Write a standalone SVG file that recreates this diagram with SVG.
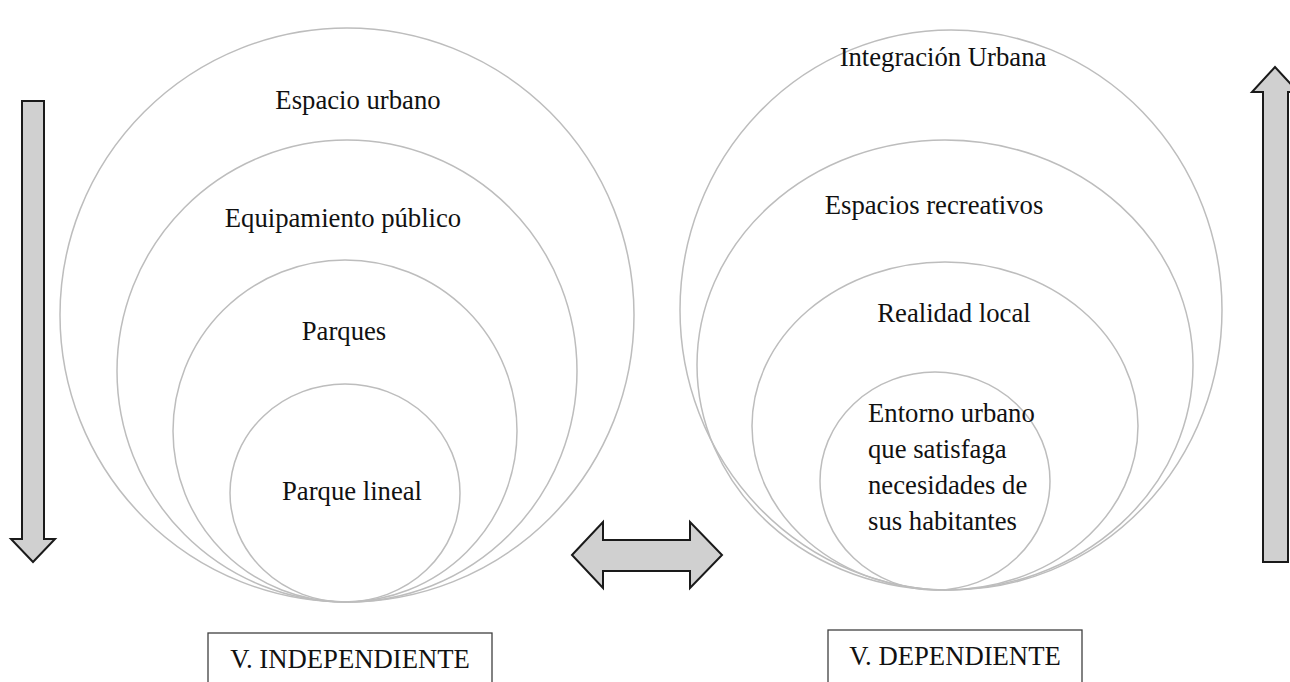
<svg xmlns="http://www.w3.org/2000/svg" width="1290" height="682" viewBox="0 0 1290 682">
<style>
.ring{fill:none;stroke:#bdbdbd;stroke-width:1.5}
.lbl{font-family:"Liberation Serif","Times New Roman",serif;font-size:26.7px;fill:#111}
.arr{fill:#d0d0d0;stroke:#1a1a1a;stroke-width:2;stroke-linejoin:miter}
.box{fill:#fff;stroke:#404040;stroke-width:1.3}
</style>
<rect width="1290" height="682" fill="#fff"/>
<g id="left-circles">
<g id="espacio-urbano"><ellipse class="ring" cx="347" cy="315" rx="287" ry="287"/><text class="lbl" x="358" y="109" text-anchor="middle">Espacio urbano</text></g>
<g id="equipamiento"><ellipse class="ring" cx="347" cy="371" rx="230" ry="231"/><text class="lbl" x="343" y="227" text-anchor="middle">Equipamiento público</text></g>
<g id="parques"><ellipse class="ring" cx="345" cy="431" rx="172" ry="171"/><text class="lbl" x="344" y="340" text-anchor="middle">Parques</text></g>
<g id="parque-lineal"><ellipse class="ring" cx="345" cy="493" rx="115" ry="109"/><text class="lbl" x="352" y="500" text-anchor="middle">Parque lineal</text></g>
</g>
<g id="right-circles">
<g id="integracion"><ellipse class="ring" cx="951" cy="310" rx="271" ry="280"/><text class="lbl" x="943" y="66" text-anchor="middle">Integración Urbana</text></g>
<g id="espacios-recreativos"><ellipse class="ring" cx="945" cy="365" rx="248" ry="225"/><text class="lbl" x="934" y="214" text-anchor="middle">Espacios recreativos</text></g>
<g id="realidad-local"><ellipse class="ring" cx="945" cy="426" rx="193" ry="164"/><text class="lbl" x="954" y="322" text-anchor="middle">Realidad local</text></g>
<g id="entorno"><ellipse class="ring" cx="935" cy="481" rx="115" ry="109"/>
<text class="lbl" x="868" y="422">Entorno urbano</text>
<text class="lbl" x="868" y="458">que satisfaga</text>
<text class="lbl" x="868" y="494">necesidades de</text>
<text class="lbl" x="868" y="530">sus habitantes</text></g>
</g>
<g id="connectors">
<path id="arrow-down" class="arr" d="M22,101 H44 V539 H55 L33,562 L11,539 H22 Z"/>
<path id="arrow-up" class="arr" d="M1263,562 V92 H1252 L1275,67 L1298,92 H1288 V562 Z"/>
<path id="arrow-both" class="arr" d="M572,555 L603,522 V540 H690 V522 L722,555 L690,588 V571 H603 V588 Z"/>
</g>
<g id="v-independiente"><rect class="box" x="208" y="633" width="284" height="60"/><text class="lbl" x="350" y="668" text-anchor="middle">V. INDEPENDIENTE</text></g>
<g id="v-dependiente"><rect class="box" x="828" y="630" width="254" height="60"/><text class="lbl" x="955" y="665" text-anchor="middle">V. DEPENDIENTE</text></g>
</svg>
